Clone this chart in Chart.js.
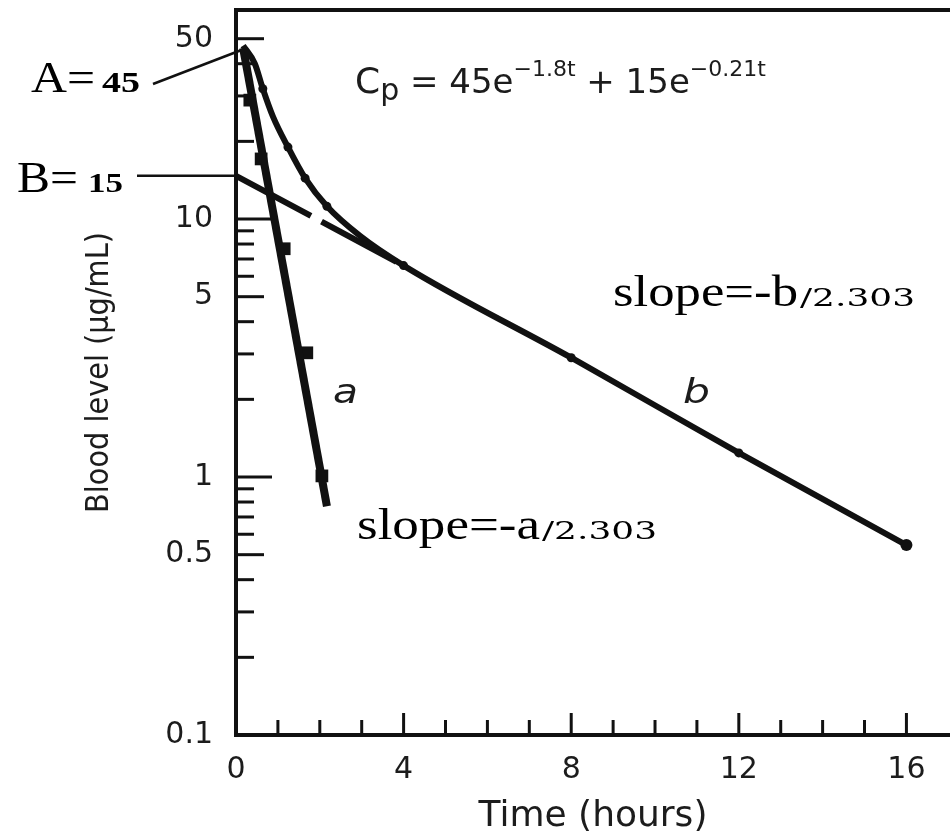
<!DOCTYPE html>
<html><head><meta charset="utf-8">
<script src="https://cdn.jsdelivr.net/npm/chart.js@4.4.1/dist/chart.umd.min.js"></script>
<style>html,body{margin:0;padding:0;background:#fff;}#wrap{width:950px;height:835px;}</style>
</head><body><div id="wrap"><canvas id="c" width="950" height="835"></canvas></div>
<script>
// ---- data ----
const cpCurveTime   = [0.17, 0.45, 0.64, 0.88, 1.24, 1.65, 2.17, 2.96, 4, 8, 12, 16];
const cpCurveLevel  = [47, 40, 32, 25, 19, 14.4, 11.2, 8.6, 6.6, 2.9, 1.24, 0.545];
const cpSampleTime  = [0.64, 1.24, 1.65, 2.17, 4, 8, 12, 16];
const cpSampleLevel = [32, 19, 14.4, 11.2, 6.6, 2.9, 1.24, 0.545];
const residLineTime   = [0.17, 2.17];
const residLineLevel  = [46, 0.77];
const residSampleTime  = [0.33, 0.6, 1.15, 1.69, 2.05];
const residSampleLevel = [28.9, 17.1, 7.67, 3.03, 1.01];
const betaExtrapTime  = [0, 4];
const betaExtrapLevel = [14.7, 6.6];
const yTickValues = [0.1,0.2,0.3,0.4,0.5,0.6,0.7,0.8,0.9,1,2,3,4,5,6,7,8,9,10,20,30,40,50];
const yTickLabels = ['0.1','0.5','1','5','10','50'];
const xTickValues = [0,1,2,3,4,5,6,7,8,9,10,11,12,13,14,15,16];
const xTickLabels = ['0','4','8','12','16'];
const yMin = 0.1, yMax = 64.6, xMin = 0, xMax = 17.04;

const pts = (xs, ys) => xs.map((t, i) => ({x: t, y: ys[i]}));
const INK = '#111';
const TXT = '#1c1c1c';

function fitText(ctx, text, font, x, base, width) {
  ctx.save();
  ctx.font = font;
  const w = ctx.measureText(text).width;
  const s = width ? width / w : 1;
  ctx.translate(x, base);
  ctx.scale(s, 1);
  ctx.fillText(text, 0, 0);
  ctx.restore();
}

const decor = {
  id: 'decor',
  beforeDatasetsDraw(chart) {
    const {ctx, chartArea: a, scales: {x, y}} = chart;
    ctx.save();
    ctx.strokeStyle = INK;
    ctx.lineWidth = 3;
    yTickValues.forEach(v => {
      if (v <= yMin) return;
      const py = y.getPixelForValue(v);
      const lab = yTickLabels.includes(String(v));
      const m = v / Math.pow(10, Math.floor(Math.log10(v) + 1e-9));
      const len = lab ? (Math.abs(m - 1) < 1e-6 ? 36 : 28) : 18;
      ctx.beginPath(); ctx.moveTo(a.left, py); ctx.lineTo(a.left + len, py); ctx.stroke();
    });
    xTickValues.forEach(v => {
      if (v <= xMin) return;
      const px = x.getPixelForValue(v);
      const len = xTickLabels.includes(String(v)) ? 22 : 15;
      ctx.beginPath(); ctx.moveTo(px, a.bottom); ctx.lineTo(px, a.bottom - len); ctx.stroke();
    });
    ctx.lineWidth = 4;
    ctx.beginPath(); ctx.moveTo(a.left - 2, a.top); ctx.lineTo(a.right, a.top); ctx.stroke();
    ctx.restore();
  },
  afterDraw(chart) {
    const {ctx, scales: {x, y}} = chart;
    ctx.save();
    ctx.fillStyle = TXT;
    ctx.strokeStyle = INK;
    ctx.textBaseline = 'alphabetic';
    // pointer lines
    ctx.lineWidth = 2.5;
    ctx.beginPath(); ctx.moveTo(153, 84); ctx.lineTo(x.getPixelForValue(0.1), y.getPixelForValue(45)); ctx.stroke();
    ctx.beginPath(); ctx.moveTo(137, y.getPixelForValue(14.7)); ctx.lineTo(x.getPixelForValue(0), y.getPixelForValue(14.7)); ctx.stroke();
    // A=45, B=15
    ctx.fillStyle = '#000';
    fitText(ctx, 'A=', '44px "Liberation Serif"', 31, 92, 64);
    fitText(ctx, '45', 'bold 30px "Liberation Serif"', 102, 92, 38);
    fitText(ctx, 'B=', '44px "Liberation Serif"', 17, 192, 61);
    fitText(ctx, '15', 'bold 27px "Liberation Serif"', 88, 192, 35);
    // slopes
    fitText(ctx, 'slope=-b', '44px "Liberation Serif"', 613, 306, 185);
    fitText(ctx, '/2.303', '25px "DejaVu Serif"', 800, 306, 115);
    fitText(ctx, 'slope=-a', '44px "Liberation Serif"', 357, 539, 183);
    fitText(ctx, '/2.303', '25px "DejaVu Serif"', 542, 539, 115);
    // curve labels
    ctx.fillStyle = TXT;
    fitText(ctx, 'a', 'italic 34px "DejaVu Sans"', 333, 403, 25);
    fitText(ctx, 'b', 'italic 34px "DejaVu Sans"', 683, 403, 27);
    // equation
    const runs = [
      ['C', '36px "DejaVu Sans"', 93],
      ['p', '30px "DejaVu Sans"', 100],
      [' = 45e', '34px "DejaVu Sans"', 93],
      ['\u22121.8t', '22px "DejaVu Sans"', 76],
      [' + 15e', '34px "DejaVu Sans"', 93],
      ['\u22120.21t', '22px "DejaVu Sans"', 76]
    ];
    let cx = 355;
    runs.forEach(([t, f, b]) => { ctx.font = f; ctx.fillText(t, cx, b); cx += ctx.measureText(t).width; });
    ctx.restore();
  }
};

new Chart(document.getElementById('c'), {
  type: 'line',
  data: {
    datasets: [
      { label: 'Cp', data: pts(cpCurveTime, cpCurveLevel), borderColor: INK, borderWidth: 6,
        cubicInterpolationMode: 'monotone', pointRadius: 0, fill: false },
      { label: 'Cp samples', data: pts(cpSampleTime, cpSampleLevel), showLine: false,
        pointRadius: c => c.dataIndex === cpSampleTime.length - 1 ? 6 : 4.5,
        backgroundColor: INK, borderColor: INK, borderWidth: 0 },
      { label: 'beta extrapolation', data: pts(betaExtrapTime, betaExtrapLevel), borderColor: INK,
        borderWidth: 6, borderDash: [85, 12], pointRadius: 0, tension: 0 },
      { label: 'residual', data: pts(residLineTime, residLineLevel), borderColor: INK, borderWidth: 8,
        pointRadius: 0, tension: 0 },
      { label: 'residual samples', data: pts(residSampleTime, residSampleLevel), showLine: false,
        pointStyle: 'rect', pointRadius: 9, backgroundColor: INK, borderColor: INK, borderWidth: 0 }
    ]
  },
  options: {
    responsive: false, animation: false, devicePixelRatio: 1,
    layout: { autoPadding: false, padding: { left: 0, right: 0, top: 10, bottom: 0 } },
    plugins: { legend: { display: false }, tooltip: { enabled: false } },
    scales: {
      x: {
        type: 'linear', min: xMin, max: xMax,
        afterBuildTicks: s => { s.ticks = xTickValues.map(v => ({ value: v })); },
        ticks: { autoSkip: false, maxRotation: 0, padding: 17, color: TXT,
          font: { family: 'DejaVu Sans', size: 30 },
          callback: v => xTickLabels.includes(String(v)) ? String(v) : '' },
        grid: { display: false, drawTicks: false },
        border: { display: true, width: 4, color: INK },
        title: { display: true, text: 'Time (hours)', color: TXT,
          font: { family: 'DejaVu Sans', size: 36 }, padding: { top: 0, bottom: -3 } },
        afterFit: s => { s.height = 100; s.paddingLeft = 0; s.paddingRight = 0; }
      },
      y: {
        type: 'logarithmic', min: yMin, max: yMax,
        afterBuildTicks: s => { s.ticks = yTickValues.map(v => ({ value: v })); },
        ticks: { autoSkip: false, padding: 23, color: TXT,
          font: { family: 'DejaVu Sans', size: 30 },
          callback: v => yTickLabels.includes(String(v)) ? String(v) : '' },
        grid: { display: false, drawTicks: false },
        border: { display: true, width: 4, color: INK },
        title: { display: true, text: 'Blood level (\u00b5g/mL)', color: TXT,
          font: { family: '"DejaVu Sans Condensed", "Liberation Sans Narrow", "DejaVu Sans"', size: 32 },
          padding: { top: 80, bottom: 0 } },
        afterFit: s => { s.width = 236; s.paddingTop = 0; s.paddingBottom = 0; }
      }
    }
  },
  plugins: [decor]
});
</script></body></html>
